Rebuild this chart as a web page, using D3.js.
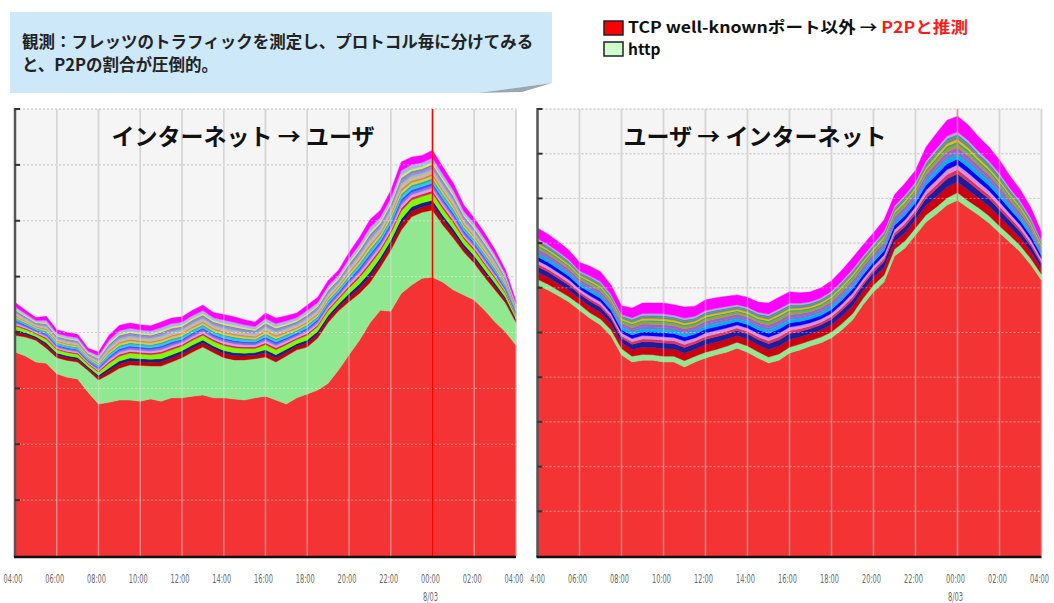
<!DOCTYPE html>
<html lang="ja">
<head>
<meta charset="utf-8">
<script src="https://cdn.jsdelivr.net/npm/d3@7"></script>
<style>
  html, body { margin: 0; padding: 0; background: #fff; }
  svg { display: block; font-family: "Noto Sans CJK JP", "Noto Sans", sans-serif; }
</style>
</head>
<body>
<svg id="chart" width="1054" height="603"></svg>
<script>
// ---- time axis: half-hour samples from 04:00 to 04:00 of the next day ----
const hours = d3.range(0, 24.5, 0.5);
const tickHours = [0, 2, 4, 6, 8, 10, 12, 14, 16, 18, 20, 22, 24];
const tickLabels = ["04:00", "06:00", "08:00", "10:00", "12:00", "14:00", "16:00",
                    "18:00", "20:00", "22:00", "00:00", "02:00", "04:00"];
const dateLabel = "8/03";
const dateHour = 20;

// ---- internet -> user (downstream), one unit per grid line ----
const downP2P = [3.65, 3.58, 3.47, 3.45, 3.26, 3.20, 3.17, 2.93, 2.72, 2.75,
                 2.79, 2.79, 2.77, 2.81, 2.77, 2.83, 2.83, 2.86, 2.88, 2.83,
                 2.83, 2.81, 2.79, 2.83, 2.86, 2.79, 2.72, 2.83, 2.90, 2.97,
                 3.09, 3.33, 3.60, 3.86, 4.17, 4.40, 4.38, 4.70, 4.85, 4.97,
                 4.99, 4.90, 4.76, 4.67, 4.58, 4.40, 4.19, 4.01, 3.77];
const downHttp = [0.30, 0.34, 0.39, 0.27, 0.29, 0.30, 0.30, 0.39, 0.43, 0.50,
                  0.57, 0.63, 0.64, 0.59, 0.63, 0.64, 0.72, 0.79, 0.86, 0.81,
                  0.72, 0.70, 0.72, 0.70, 0.70, 0.68, 0.86, 0.86, 0.84, 0.93,
                  1.09, 1.06, 0.95, 0.84, 0.72, 0.77, 1.09, 1.13, 1.22, 1.18,
                  1.20, 1.02, 0.93, 0.77, 0.66, 0.59, 0.57, 0.52, 0.41];
const downOther = [0.59, 0.48, 0.41, 0.57, 0.50, 0.50, 0.50, 0.40, 0.50, 0.70,
                   0.77, 0.75, 0.73, 0.72, 0.79, 0.79, 0.73, 0.75, 0.75, 0.72,
                   0.77, 0.77, 0.72, 0.66, 0.79, 0.79, 0.72, 0.66, 0.75, 0.73,
                   0.75, 0.73, 0.88, 1.00, 1.13, 1.02, 1.07, 1.22, 1.07, 1.02,
                   1.07, 1.04, 0.98, 0.84, 0.81, 0.79, 0.72, 0.59, 0.39];
// share of each remaining protocol inside "other", bottom to top
const downOtherShare = [0.09, 0.07, 0.11, 0.04, 0.045, 0.04, 0.04, 0.04, 0.035, 0.04,
                        0.035, 0.04, 0.035, 0.04, 0.035, 0.035, 0.035, 0.035, 0.12];

// ---- user -> internet (upstream) ----
const upP2P = [6.06, 5.95, 5.82, 5.68, 5.50, 5.32, 5.17, 4.92, 4.50, 4.34,
               4.38, 4.38, 4.34, 4.34, 4.23, 4.34, 4.43, 4.50, 4.56, 4.65,
               4.56, 4.43, 4.32, 4.38, 4.54, 4.61, 4.70, 4.77, 4.88, 5.06,
               5.28, 5.62, 5.91, 6.13, 6.71, 6.89, 7.18, 7.47, 7.65, 7.85,
               7.96, 7.79, 7.63, 7.45, 7.23, 7.02, 6.80, 6.51, 6.17];
const upHttp = [0.13, 0.13, 0.12, 0.12, 0.13, 0.12, 0.13, 0.14, 0.14, 0.13,
                0.13, 0.12, 0.13, 0.13, 0.14, 0.13, 0.13, 0.12, 0.13, 0.13,
                0.14, 0.14, 0.13, 0.14, 0.13, 0.13, 0.12, 0.13, 0.13, 0.14,
                0.14, 0.14, 0.15, 0.15, 0.15, 0.16, 0.16, 0.16, 0.16, 0.16,
                0.17, 0.16, 0.16, 0.16, 0.15, 0.15, 0.14, 0.14, 0.13];
const upOther = [1.15, 1.12, 1.09, 1.04, 0.94, 1.04, 1.06, 1.00, 0.96, 1.08,
                 1.15, 1.16, 1.19, 1.15, 1.20, 1.12, 1.17, 1.16, 1.12, 1.06,
                 1.09, 1.11, 1.21, 1.27, 1.24, 1.15, 1.09, 1.10, 1.15, 1.20,
                 1.25, 1.20, 1.17, 1.24, 1.22, 1.29, 1.29, 1.52, 1.65, 1.74,
                 1.71, 1.70, 1.59, 1.54, 1.48, 1.33, 1.25, 1.14, 0.94];
const upOtherShare = [0.13, 0.10, 0.05, 0.06, 0.07, 0.05, 0.04, 0.05, 0.04, 0.03,
                      0.03, 0.03, 0.03, 0.03, 0.19];

// ---- colours ----
const p2pColor = "#f43434";
const httpColor = "#90e890";
const downPalette = ["#c00000", "#1c1c8a", "#7cfc00", "#e0204a", "#dda0dd", "#9370db",
                     "#3355ff", "#40c0f0", "#20b2aa", "#e8c840", "#a0a050", "#f4a0b0",
                     "#80d0a0", "#b080e0", "#6090c0", "#f0e060", "#90c0e0", "#c0a0f0",
                     "#ff00ff"];
const upPalette = ["#cc0010", "#1c1c9c", "#e03060", "#d890d8", "#0000ff", "#00b0f0",
                   "#6080d0", "#a060c8", "#9aa040", "#40a080", "#e0c000", "#808080",
                   "#30a0a0", "#c8a0e0", "#ff00ff"];

const svg = d3.select("#chart");

// ---- note box ----
const note = svg.append("g");
note.append("path")
  .attr("d", "M10,12 H552 V83 L478,93 H10 Z")
  .attr("fill", "#cde8f9");
note.append("path")
  .attr("d", "M478,93 L552,83 L522,92 Z")
  .attr("fill", "#9aa6b0");
note.append("text")
  .attr("x", 22).attr("y", 48)
  .attr("font-size", 16.5).attr("font-weight", 700).attr("fill", "#222")
  .text("観測：フレッツのトラフィックを測定し、プロトコル毎に分けてみる");
note.append("text")
  .attr("x", 22).attr("y", 71)
  .attr("font-size", 16.5).attr("font-weight", 700).attr("fill", "#222")
  .text("と、P2Pの割合が圧倒的。");

// ---- legend ----
const legend = svg.append("g");
legend.append("rect").attr("x", 604).attr("y", 21).attr("width", 19).attr("height", 14)
  .attr("fill", "#ff0000").attr("stroke", "#222").attr("stroke-width", 1.5);
legend.append("rect").attr("x", 604).attr("y", 42).attr("width", 19).attr("height", 14)
  .attr("fill", "#ccffcc").attr("stroke", "#222").attr("stroke-width", 1.5);
const l1 = legend.append("text").attr("x", 628).attr("y", 33)
  .attr("font-size", 15.5).attr("font-weight", 700).attr("fill", "#111")
  .attr("textLength", 340).attr("lengthAdjust", "spacingAndGlyphs");
l1.append("tspan").text("TCP well-knownポート以外 → ");
l1.append("tspan").attr("fill", "#ff1a1a").text("P2Pと推測");
legend.append("text").attr("x", 628).attr("y", 55)
  .attr("font-size", 15.5).attr("font-weight", 700).attr("fill", "#111")
  .text("http");

// ---- one stacked-area panel ----
function drawPanel(p) {
  const g = svg.append("g");
  const x = d3.scaleLinear().domain([0, 24]).range([p.left, p.right]);
  const y = d3.scaleLinear().domain([0, p.yMax]).range([p.bottom, p.top]);
  const yTicks = d3.range(1, p.yMax + 1);

  const shareSum = d3.sum(p.shares);
  const otherKeys = p.shares.map((_, j) => "o" + j);
  const keys = ["p2p", "http", ...otherKeys];
  const rows = hours.map((h, i) => {
    const r = { h, p2p: p.p2p[i], http: p.http[i] };
    p.shares.forEach((s, j) => { r["o" + j] = p.other[i] * s / shareSum; });
    return r;
  });
  const colors = [p2pColor, httpColor, ...p.palette];
  const series = d3.stack().keys(keys)(rows);

  // plot background
  g.append("rect")
    .attr("x", p.left).attr("y", p.top)
    .attr("width", p.right - p.left).attr("height", p.bottom - p.top)
    .attr("fill", "#f5f5f5");

  // grid beneath the data
  g.append("g").selectAll("line").data(yTicks).join("line")
    .attr("x1", p.left).attr("x2", p.right)
    .attr("y1", d => y(d)).attr("y2", d => y(d))
    .attr("stroke", "#a8a8a8").attr("stroke-width", 1).attr("stroke-dasharray", "2,2");
  g.append("g").selectAll("line").data(tickHours.slice(1)).join("line")
    .attr("x1", d => x(d)).attr("x2", d => x(d))
    .attr("y1", p.top).attr("y2", p.bottom)
    .attr("stroke", "#cccccc").attr("stroke-width", 1.5);

  // stacked protocol layers
  const area = d3.area()
    .x(d => x(d.data.h))
    .y0(d => y(d[0]))
    .y1(d => y(d[1]));
  g.append("g").selectAll("path").data(series).join("path")
    .attr("fill", (d, i) => colors[i])
    .attr("stroke", (d, i) => colors[i])
    .attr("stroke-width", 0.4)
    .attr("d", area);

  // grid showing through the data
  g.append("g").selectAll("line").data(yTicks).join("line")
    .attr("x1", p.left).attr("x2", p.right)
    .attr("y1", d => y(d)).attr("y2", d => y(d))
    .attr("stroke", "rgba(255,255,255,0.45)").attr("stroke-width", 1).attr("stroke-dasharray", "2,2");
  g.append("g").selectAll("line").data(tickHours.slice(1)).join("line")
    .attr("x1", d => x(d)).attr("x2", d => x(d))
    .attr("y1", p.top).attr("y2", p.bottom)
    .attr("stroke", "rgba(225,225,225,0.45)").attr("stroke-width", 1.5);

  // midnight marker
  g.append("line")
    .attr("x1", x(dateHour)).attr("x2", x(dateHour))
    .attr("y1", p.top).attr("y2", p.bottom)
    .attr("stroke", p.markerColor).attr("stroke-width", 1.5);

  // axes
  g.append("line")
    .attr("x1", p.left).attr("x2", p.left)
    .attr("y1", p.top - 1).attr("y2", p.bottom + 1)
    .attr("stroke", "#555").attr("stroke-width", 2.5);
  g.append("g").selectAll("line").data(yTicks).join("line")
    .attr("x1", p.left).attr("x2", p.left + 5)
    .attr("y1", d => y(d)).attr("y2", d => y(d))
    .attr("stroke", "#333").attr("stroke-width", 2);
  g.append("line")
    .attr("x1", p.left - 1).attr("x2", p.right)
    .attr("y1", p.bottom + 1).attr("y2", p.bottom + 1)
    .attr("stroke", "#111").attr("stroke-width", 2.5);

  // time labels, cropped at the panel's own left edge
  const clipId = "clip-" + p.id;
  svg.append("clipPath").attr("id", clipId)
    .append("rect").attr("x", p.clipLeft).attr("y", 560)
    .attr("width", p.clipRight - p.clipLeft).attr("height", 50);
  const labels = g.append("g").attr("clip-path", `url(#${clipId})`);
  labels.selectAll("text.tick").data(tickHours).join("text")
    .attr("class", "tick")
    .attr("x", d => x(d) - 2).attr("y", 583)
    .attr("text-anchor", "middle")
    .attr("font-family", "'Liberation Sans Narrow', 'DejaVu Sans Condensed', sans-serif")
    .attr("font-size", 12).attr("fill", "#6a6a6a")
    .attr("textLength", 19).attr("lengthAdjust", "spacingAndGlyphs")
    .text((d, i) => tickLabels[i]);
  labels.append("text")
    .attr("x", x(dateHour) - 2).attr("y", 601)
    .attr("text-anchor", "middle")
    .attr("font-family", "'Liberation Sans Narrow', 'DejaVu Sans Condensed', sans-serif")
    .attr("font-size", 12).attr("fill", "#6a6a6a")
    .attr("textLength", 15).attr("lengthAdjust", "spacingAndGlyphs")
    .text(dateLabel);

  // panel title
  g.append("text")
    .attr("x", p.titleX).attr("y", 145)
    .attr("text-anchor", "middle")
    .attr("font-size", 23).attr("font-weight", 700).attr("fill", "#111")
    .text(p.title);
}

drawPanel({
  id: "down", left: 15, right: 516, top: 109, bottom: 556, yMax: 8,
  clipLeft: 0, clipRight: 530,
  p2p: downP2P, http: downHttp, other: downOther,
  shares: downOtherShare, palette: downPalette,
  markerColor: "#ff0000",
  title: "インターネット → ユーザ", titleX: 243
});

drawPanel({
  id: "up", left: 537.5, right: 1041.5, top: 109, bottom: 556, yMax: 10,
  clipLeft: 530, clipRight: 1054,
  p2p: upP2P, http: upHttp, other: upOther,
  shares: upOtherShare, palette: upPalette,
  markerColor: "rgba(255,110,110,0.75)",
  title: "ユーザ → インターネット", titleX: 755
});
</script>
</body>
</html>
